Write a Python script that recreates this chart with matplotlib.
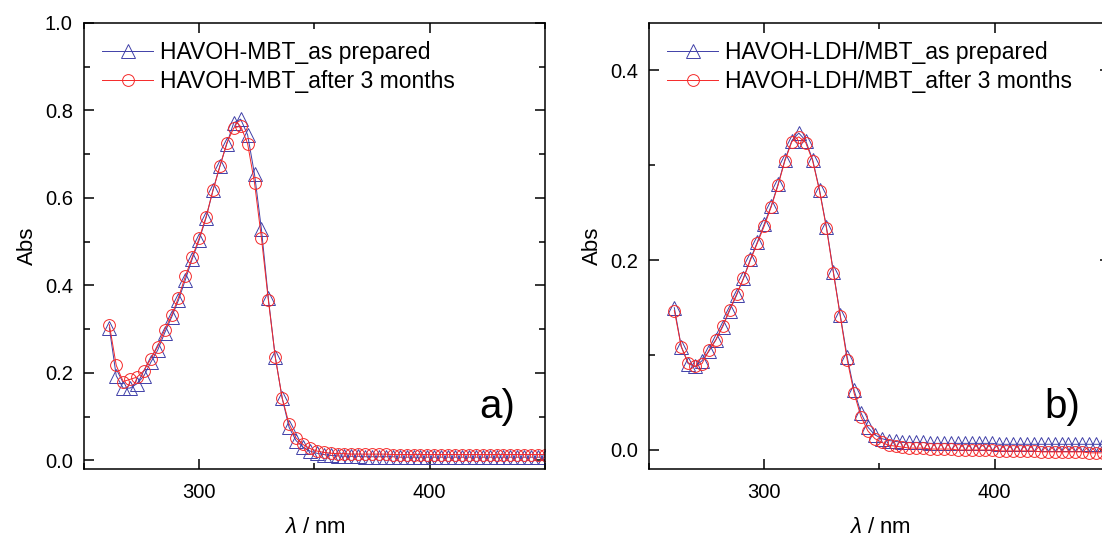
import matplotlib
matplotlib.use('Agg')
from matplotlib import pyplot as plt
from matplotlib.ticker import MultipleLocator

plt.rcParams['font.family'] = ['Liberation Sans', 'DejaVu Sans']
plt.rcParams['mathtext.fontset'] = 'custom'
plt.rcParams['mathtext.it'] = 'Liberation Sans:italic'
plt.rcParams['mathtext.rm'] = 'Liberation Sans'

# wavelength grid [nm]
wl = [261, 264, 267, 270, 273, 276, 279, 282, 285, 288,
      291, 294, 297, 300, 303, 306, 309, 312, 315, 318,
      321, 324, 327, 330, 333, 336, 339, 342, 345, 348,
      351, 354, 357, 360, 363, 366, 369, 372, 375, 378,
      381, 384, 387, 390, 393, 396, 399, 402, 405, 408,
      411, 414, 417, 420, 423, 426, 429, 432, 435, 438,
      441, 444, 447, 450]

# a) HAVOH-MBT
mbt_fresh = [0.303, 0.193, 0.165, 0.165, 0.175, 0.193, 0.224, 0.252, 0.291, 0.327,
             0.366, 0.413, 0.461, 0.504, 0.555, 0.618, 0.673, 0.724, 0.772, 0.780,
             0.744, 0.654, 0.528, 0.370, 0.236, 0.142, 0.075, 0.045, 0.030, 0.021,
             0.016, 0.013, 0.011, 0.010, 0.009, 0.009, 0.009, 0.008, 0.008, 0.008,
             0.008, 0.008, 0.007, 0.007, 0.007, 0.007, 0.007, 0.007, 0.007, 0.007,
             0.007, 0.007, 0.007, 0.007, 0.007, 0.007, 0.007, 0.007, 0.007, 0.007,
             0.007, 0.007, 0.007, 0.007]
mbt_aged = [0.310, 0.217, 0.180, 0.185, 0.190, 0.205, 0.232, 0.260, 0.298, 0.331,
            0.372, 0.421, 0.465, 0.508, 0.557, 0.618, 0.673, 0.726, 0.760, 0.764,
            0.724, 0.634, 0.508, 0.366, 0.236, 0.142, 0.083, 0.051, 0.036, 0.027,
            0.021, 0.018, 0.016, 0.015, 0.015, 0.014, 0.014, 0.014, 0.014, 0.014,
            0.014, 0.013, 0.013, 0.013, 0.013, 0.013, 0.013, 0.013, 0.013, 0.013,
            0.013, 0.013, 0.013, 0.013, 0.013, 0.013, 0.013, 0.013, 0.013, 0.013,
            0.013, 0.013, 0.013, 0.013]

# b) HAVOH-LDH/MBT
ldh_fresh = [0.150, 0.109, 0.091, 0.088, 0.094, 0.104, 0.116, 0.130, 0.147, 0.163,
             0.181, 0.201, 0.219, 0.238, 0.257, 0.280, 0.306, 0.326, 0.334, 0.326,
             0.306, 0.274, 0.235, 0.188, 0.142, 0.098, 0.063, 0.039, 0.024, 0.016,
             0.012, 0.010, 0.009, 0.008, 0.008, 0.008, 0.008, 0.007, 0.007, 0.007,
             0.007, 0.007, 0.007, 0.007, 0.007, 0.007, 0.007, 0.006, 0.006, 0.006,
             0.006, 0.006, 0.006, 0.006, 0.006, 0.006, 0.006, 0.006, 0.006, 0.006,
             0.006, 0.006, 0.006, 0.006]
ldh_aged = [0.147, 0.109, 0.092, 0.088, 0.091, 0.105, 0.116, 0.131, 0.148, 0.164,
            0.181, 0.200, 0.218, 0.236, 0.256, 0.279, 0.305, 0.325, 0.330, 0.324,
            0.305, 0.273, 0.234, 0.187, 0.141, 0.095, 0.060, 0.035, 0.020, 0.012,
            0.008, 0.005, 0.004, 0.003, 0.002, 0.002, 0.002, 0.001, 0.001, 0.001,
            0.001, 0.000, 0.000, 0.000, 0.000, 0.000, 0.000, -0.001, -0.001, -0.001,
            -0.001, -0.001, -0.001, -0.002, -0.002, -0.002, -0.002, -0.002, -0.002, -0.002,
            -0.003, -0.003, -0.003, -0.003]

blue = '#4040a8'
red = '#f52828'

fig = plt.figure(figsize=(11.02, 5.38), dpi=100)
ax1 = fig.add_axes([0.0762, 0.1283, 0.4183, 0.829])
ax2 = fig.add_axes([0.5889, 0.1283, 0.4183, 0.829])

panels = [
    (ax1, mbt_fresh, mbt_aged, 'HAVOH-MBT', (-0.02, 1.0), 'a)'),
    (ax2, ldh_fresh, ldh_aged, 'HAVOH-LDH/MBT', (-0.02, 0.45), 'b)'),
]

for ax, fresh, aged, name, ylim, tag in panels:
    ax.plot(wl, fresh, color=blue, lw=0.7, marker='^', ms=9.5, mfc='none',
            mec=blue, mew=0.7, label=name + '_as prepared')
    ax.plot(wl, aged, color=red, lw=0.7, marker='o', ms=8.5, mfc='none',
            mec=red, mew=0.7, label=name + '_after 3 months')

    ax.set_xlim(250, 450)
    ax.set_ylim(*ylim)
    ax.xaxis.set_major_locator(MultipleLocator(100))
    ax.xaxis.set_minor_locator(MultipleLocator(50))
    ax.yaxis.set_major_locator(MultipleLocator(0.2))
    ax.yaxis.set_minor_locator(MultipleLocator(0.1))
    ax.yaxis.set_major_formatter('{x:.1f}')
    ax.tick_params(which='both', direction='in', top=True, right=True,
                   labelsize=14.5, width=1.1)
    ax.tick_params(axis='x', pad=10)
    ax.tick_params(axis='y', pad=8)
    ax.tick_params(which='major', length=7.5)
    ax.tick_params(which='minor', length=4)
    for s in ax.spines.values():
        s.set_linewidth(1.1)

    ax.set_xlabel(r'$\mathit{\lambda}$ / nm', fontsize=16, labelpad=11)
    ax.set_ylabel('Abs', fontsize=16, labelpad=5)

    ax.legend(loc='upper left', frameon=False, fontsize=16.5, handlelength=2.2,
              handletextpad=0.3, labelspacing=0.25, borderaxespad=0.45,
              borderpad=0.35)
    ax.text(0.935, 0.14, tag, transform=ax.transAxes, fontsize=29,
            ha='right', va='center')

fig.savefig('out.png', dpi=100)
